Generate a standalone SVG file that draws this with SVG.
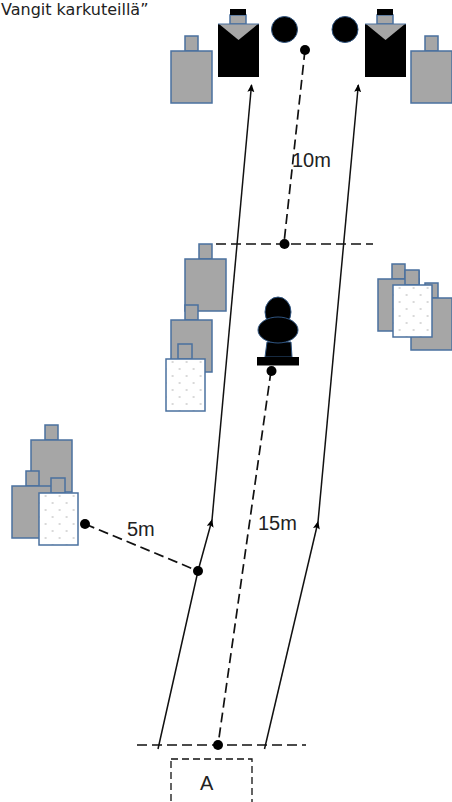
<svg xmlns="http://www.w3.org/2000/svg" width="452" height="802" viewBox="0 0 452 802">
<style>
.g{fill:#a6a6a6;stroke:#4a709f;stroke-width:1.5}
.w{fill:url(#dots);stroke:#4a709f;stroke-width:1.5}
.k{fill:#000}
.kb{fill:#000;stroke:#2f5480;stroke-width:1}
.t{fill:#a6a6a6}
.d{fill:none;stroke:#111;stroke-width:1.7;stroke-dasharray:10 5}
.s{fill:none;stroke:#111;stroke-width:1.5}
text{font-family:"Liberation Sans",Arial,sans-serif;font-size:20px;fill:#222}
</style>
<defs>
<pattern id="dots" width="14" height="14" patternUnits="userSpaceOnUse" x="3.600" y="1">
<rect width="14" height="14" fill="#fff"/>
<circle cx="3" cy="3" r=".8" fill="#aaa"/><circle cx="10" cy="10" r=".8" fill="#aaa"/>
</pattern>
<marker id="ah" markerWidth="9" markerHeight="9" refX="7" refY="3.500" orient="auto" markerUnits="userSpaceOnUse"><path d="M0 0L8 3.500L0 7L1.500 3.500Z" fill="#000"/></marker>
<g id="p"><rect class="g" x="14" y="0" width="13" height="15"/><rect class="g" x="0" y="15" width="41" height="52"/></g>
<g id="q"><rect class="g" x="12" y="0" width="14" height="15"/><rect class="w" x="0" y="15" width="39" height="52"/></g>
<g id="b"><rect class="g" x="12" y="6" width="16" height="9"/><rect class="k" x="12" y="0" width="16" height="6"/><rect class="k" x="0" y="15" width="41" height="53"/><path class="t" d="M1 15H40L20.500 31Z"/><path d="M0 15H41" stroke="#4a709f" stroke-width="1" fill="none"/></g>
</defs>
<text x="1" y="14.500" style="font-family:'DejaVu Sans',sans-serif;font-size:16px">Vangit karkuteillä”</text>
<g id="connectors">
<path class="s" d="M158 749L198 571L212 520" marker-end="url(#ah)"/>
<path class="s" d="M212 520L251.500 85" marker-end="url(#ah)"/>
<path class="s" d="M264.500 749L318 522" marker-end="url(#ah)"/>
<path class="s" d="M318 522L358.300 85" marker-end="url(#ah)"/>
<path class="d" d="M305 50L284 243"/>
<path class="d" d="M216 244H373"/>
<path class="d" d="M271 371L218 745"/>
<path class="d" d="M137 745H306"/>
<path class="d" d="M85 524L198 571"/>
<circle class="k" cx="305" cy="50" r="5"/>
<circle class="k" cx="284.500" cy="244" r="5"/>
<circle class="k" cx="271.500" cy="371" r="5"/>
<circle class="k" cx="218" cy="745" r="5"/>
<circle class="k" cx="198" cy="571" r="5"/>
<circle class="k" cx="85" cy="524" r="5"/>
</g>
<g id="top-left-guard"><use href="#p" x="171" y="36"/></g>
<g id="top-right-guard"><use href="#p" x="411" y="36"/></g>
<g id="black-left"><use href="#b" x="218" y="9"/></g>
<g id="black-right"><use href="#b" x="365" y="9"/></g>
<g id="ball-left"><circle class="kb" cx="284.500" cy="29.500" r="13"/></g>
<g id="ball-right"><circle class="kb" cx="345" cy="29.500" r="13"/></g>
<g id="mid-left-1"><use href="#p" x="185" y="244"/></g>
<g id="mid-left-2"><use href="#p" x="171" y="305"/><use href="#q" x="166" y="344"/></g>
<g id="right-cluster"><use href="#p" x="411" y="283"/><rect class="g" x="406" y="271" width="13" height="15"/><use href="#p" x="378" y="264"/><use href="#q" x="393" y="270"/></g>
<g id="left-cluster"><use href="#p" x="31" y="425"/><use href="#p" x="12" y="471"/><use href="#q" x="39" y="478"/></g>
<g id="goalkeeper"><path class="kb" d="M267 342H291L292 357H265Z"/><ellipse class="kb" cx="278" cy="312" rx="13" ry="15"/><ellipse class="kb" cx="278" cy="330" rx="20" ry="13"/><rect class="k" x="257" y="357" width="42" height="8.500"/></g>
<g id="start-a"><rect x="171" y="759" width="81" height="50" fill="none" stroke="#111" stroke-width="1.300" stroke-dasharray="7 4"/><text x="200" y="790">A</text></g>
<text x="292" y="167">10m</text>
<text x="258" y="530">15m</text>
<text x="127" y="536">5m</text>
</svg>
